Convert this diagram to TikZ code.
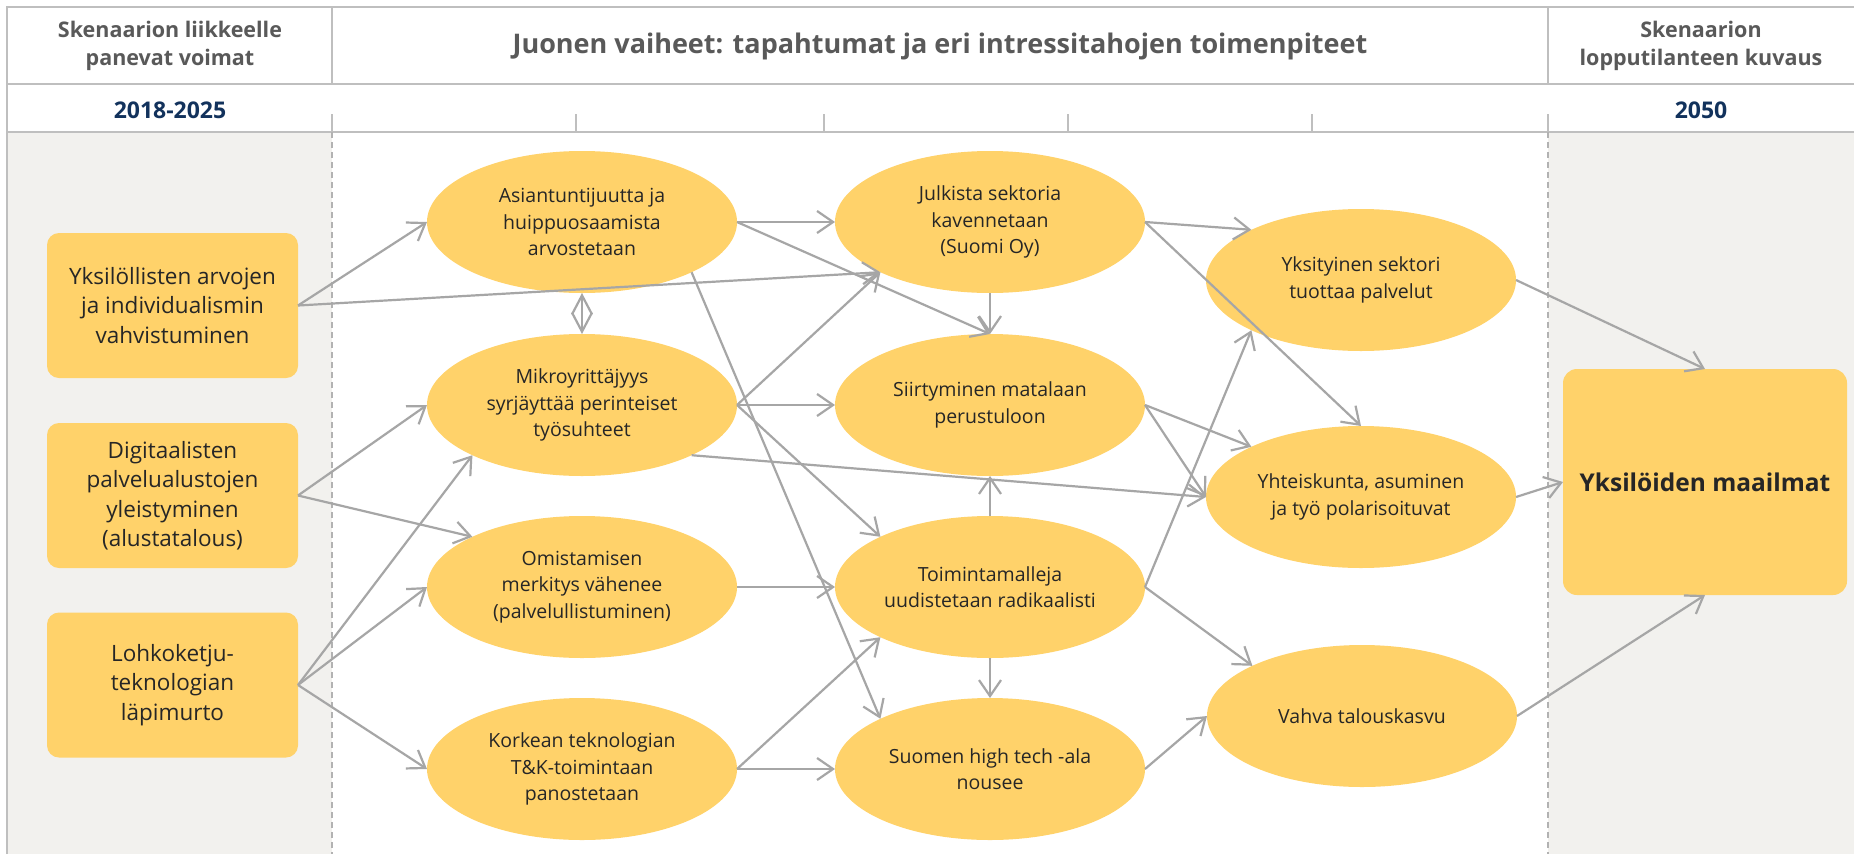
\documentclass[tikz,border=0pt]{standalone}
\usepackage{fontspec}
\setmainfont{Open Sans}
\usetikzlibrary{arrows.meta,shapes.geometric}
\definecolor{nodefill}{RGB}{255,210,106}
\definecolor{panelgray}{RGB}{242,241,238}
\definecolor{linegray}{RGB}{191,191,191}
\definecolor{arrowgray}{RGB}{166,166,166}
\definecolor{headgray}{RGB}{89,89,89}
\definecolor{yearblue}{RGB}{18,50,92}
\definecolor{textdark}{RGB}{38,38,38}
\begin{document}
\begin{tikzpicture}[x=1pt,y=-1pt,
  driver/.style={rectangle, rounded corners=12pt, fill=nodefill, minimum width=251pt, minimum height=145pt, align=center, font=\fontsize{22.5}{29.5}\selectfont, text=textdark, inner sep=0pt, outer sep=0pt},
  event/.style={ellipse, fill=nodefill, minimum width=310pt, minimum height=142pt, align=center, font=\fontsize{19.5}{26.5}\selectfont, text=textdark, inner sep=0pt, outer sep=0pt},
  outcome/.style={rectangle, rounded corners=14pt, fill=nodefill, minimum width=284pt, minimum height=226pt, align=center, font=\bfseries\fontsize{24.5}{30}\selectfont, text=textdark, inner sep=0pt, outer sep=0pt},
  headtext/.style={align=center, text=headgray, font=\bfseries\fontsize{21.5}{28}\selectfont, inner sep=0pt},
  bighead/.style={align=center, text=headgray, font=\bfseries\fontsize{27}{32}\selectfont, inner sep=0pt},
  yeartext/.style={align=center, text=yearblue, font=\bfseries\fontsize{23}{28}\selectfont, inner sep=0pt},
  frame/.style={draw=linegray, line width=1.8pt},
  tickline/.style={draw=linegray, line width=1.2pt},
  divider/.style={draw=linegray!80!gray, line width=1.2pt, dash pattern=on 6pt off 4pt},
  link/.style={draw=arrowgray, line width=2.2pt, -{Straight Barb[length=16pt,width=22pt]}},
  twoway/.style={draw=arrowgray, line width=2.2pt, {Straight Barb[length=19pt,width=20pt]}-{Straight Barb[length=19pt,width=20pt]}}
]
\useasboundingbox (0,0) rectangle (1854,854);
\fill[white] (0,0) rectangle (1854,854);
% panels
\fill[panelgray] (7,132) rectangle (332,854);
\fill[panelgray] (1548,132) rectangle (1854,854);
% frame lines
\draw[frame] (7,854) -- (7,7) -- (1854,7);
\draw[frame] (7,84) -- (1854,84);
\draw[frame] (7,132) -- (1854,132);
\draw[frame] (332,7) -- (332,84);
\draw[frame] (1548,7) -- (1548,84);
\foreach \tx in {332,576,824,1068,1312,1548} {
  \draw[tickline] (\tx,114) -- (\tx,132);
}
\draw[divider] (332,132) -- (332,854);
\draw[divider] (1548,132) -- (1548,854);
% header texts
\node[headtext] (hleft) at (170,46) {Skenaarion liikkeelle\\panevat voimat};
\node[bighead] (hmid) at (940,46) {Juonen vaiheet: tapahtumat ja eri intressitahojen toimenpiteet};
\node[headtext] (hright) at (1701,46) {Skenaarion\\lopputilanteen kuvaus};
\node[yeartext] (yleft) at (170,110) {2018-2025};
\node[yeartext] (yright) at (1701,110) {2050};
% drivers
\node[driver] (L1) at (172.5,305.5) {Yksilöllisten arvojen\\ja individualismin\\vahvistuminen};
\node[driver] (L2) at (172.5,495.5) {Digitaalisten\\palvelualustojen\\yleistyminen\\(alustatalous)};
\node[driver] (L3) at (172.5,685) {Lohkoketju-\\teknologian\\läpimurto};
% column 1
\node[event] (A) at (582,222) {Asiantuntijuutta ja\\huippuosaamista\\arvostetaan};
\node[event] (M) at (582,405) {Mikroyrittäjyys\\syrjäyttää perinteiset\\työsuhteet};
\node[event] (O) at (582,587) {Omistamisen\\merkitys vähenee\\(palvelullistuminen)};
\node[event] (K) at (582,769) {Korkean teknologian\\T\&K-toimintaan\\panostetaan};
% column 2
\node[event] (J) at (990,222) {Julkista sektoria\\kavennetaan\\(Suomi Oy)};
\node[event] (S) at (990,405) {Siirtyminen matalaan\\perustuloon};
\node[event] (T) at (990,587) {Toimintamalleja\\uudistetaan radikaalisti};
\node[event] (H) at (990,769) {Suomen high tech -ala\\nousee};
% column 3
\node[event] (Y) at (1361,280) {Yksityinen sektori\\tuottaa palvelut};
\node[event] (P) at (1361,497) {Yhteiskunta, asuminen\\ja työ polarisoituvat};
\node[event] (V) at (1362,716) {Vahva talouskasvu};
% outcome
\node[outcome] (R) at (1705,482) {Yksilöiden maailmat};
% connectors
\draw[link] (L1.east) -- (A.west);
\draw[link] (L1.east) -- (J.south west);
\draw[link] (L2.east) -- (M.west);
\draw[link] (L2.east) -- (O.north west);
\draw[link] (L3.east) -- (M.south west);
\draw[link] (L3.east) -- (O.west);
\draw[link] (L3.east) -- (K.west);
\draw[twoway] (A.south) -- (M.north);
\draw[link] (A.east) -- (J.west);
\draw[link] (A.east) -- (S.north);
\draw[link] (A.south east) -- (H.north west);
\draw[link] (M.east) -- (J.south west);
\draw[link] (M.east) -- (S.west);
\draw[link] (M.east) -- (T.north west);
\draw[link] (M.south east) -- (P.west);
\draw[link] (O.east) -- (T.west);
\draw[link] (K.east) -- (T.south west);
\draw[link] (K.east) -- (H.west);
\draw[link] (J.east) -- (Y.north west);
\draw[link] (J.east) -- (P.north);
\draw[link] (J.south) -- (S.north);
\draw[link] (S.east) -- (P.north west);
\draw[link] (S.east) -- (P.west);
\draw[link] (T.north) -- (S.south);
\draw[link] (T.south) -- (H.north);
\draw[link] (T.east) -- (Y.south west);
\draw[link] (T.east) -- (V.north west);
\draw[link] (H.east) -- (V.west);
\draw[link] (Y.east) -- (R.north);
\draw[link] (P.east) -- (R.west);
\draw[link] (V.east) -- (R.south);
\end{tikzpicture}
\end{document}
